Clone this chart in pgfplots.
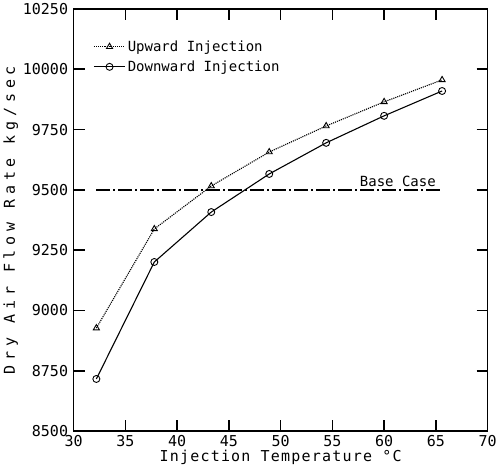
\documentclass[border=0pt]{standalone}
\usepackage{pgfplots}
\pgfplotsset{compat=1.18}
\usepackage{fontspec}
\newfontfamily\mono{DejaVu Sans Mono}
\newfontfamily\ylabfont[LetterSpace=32]{DejaVu Sans Mono}
\newfontfamily\xlabfont[LetterSpace=8]{DejaVu Sans Mono}

\begin{document}
\begin{tikzpicture}
\begin{axis}[
  width=414pt, height=422pt, scale only axis,
  xmin=30, xmax=70, ymin=8500, ymax=10250,
  xtick={30,35,...,70}, ytick={8500,8750,...,10250},
  scaled y ticks=false,
  major tick length=11pt,
  tick style={solid, black, line width=1.6pt},
  axis line style={solid, line width=1.3pt},
  ticklabel style={font=\mono\fontsize{15}{17}\selectfont},
  yticklabel style={xshift=-2pt},
  xticklabel style={yshift=-1pt},
  xticklabel={\pgfmathprintnumber[assume math mode=true,fixed,precision=0,1000 sep={}]{\tick}},
  yticklabel={\pgfmathprintnumber[assume math mode=true,fixed,precision=0,1000 sep={}]{\tick}},
  xlabel={\xlabfont\fontsize{15}{17}\selectfont Injection Temperature °C},
  ylabel={\ylabfont\fontsize{15}{17}\selectfont Dry Air Flow Rate kg/sec},
  xlabel style={yshift=4pt},
  ylabel style={yshift=-2pt},
  unbounded coords=jump,
  legend style={at={(0.04,0.935)}, anchor=north west, draw=none, fill=none,
    font=\mono\fontsize{14}{16}\selectfont, row sep=4pt},
  legend cell align=left,
  legend image code/.code={\draw[mark repeat=2,mark phase=2,#1]
    plot coordinates {(0cm,0cm) (0.55cm,0cm) (1.1cm,0cm)};},
]
\addplot[black, densely dotted, line width=1.1pt, mark=triangle, mark size=3.5pt,
  mark options={solid, line width=0.9pt}]
  coordinates {(32.2,8927) (37.8,9338) (43.3,9516) (48.9,9657) (54.4,9765) (60.0,9865) (65.6,9956)};
\addlegendentry{Upward Injection}
\addplot[black, solid, line width=1.1pt, mark=o, mark size=3.5pt,
  mark options={line width=0.9pt}]
  coordinates {(32.2,8716) (37.8,9201) (43.3,9408) (48.9,9566) (54.4,9695) (60.0,9807) (65.6,9910)};
\addlegendentry{Downward Injection}
\addplot[black, line width=1.3pt, dash pattern=on 14pt off 3pt on 2pt off 3pt, forget plot]
  coordinates {(32.2,9500) (65.6,9500)};
% inward tick marks on all four sides
\addplot[black, solid, line width=1.6pt, forget plot] coordinates {
  (35,8500) (35,8546) (35,nan) (40,8500) (40,8546) (40,nan)
  (45,8500) (45,8546) (45,nan) (50,8500) (50,8546) (50,nan)
  (55,8500) (55,8546) (55,nan) (60,8500) (60,8546) (60,nan)
  (65,8500) (65,8546) (65,nan)
  (35,10250) (35,10204) (35,nan) (40,10250) (40,10204) (40,nan)
  (45,10250) (45,10204) (45,nan) (50,10250) (50,10204) (50,nan)
  (55,10250) (55,10204) (55,nan) (60,10250) (60,10204) (60,nan)
  (65,10250) (65,10204) (65,nan)
  (30,8750) (31.06,8750) (30,nan) (30,9000) (31.06,9000) (30,nan)
  (30,9250) (31.06,9250) (30,nan) (30,9500) (31.06,9500) (30,nan)
  (30,9750) (31.06,9750) (30,nan) (30,10000) (31.06,10000) (30,nan)
  (68.94,8750) (70,8750) (70,nan) (68.94,9000) (70,9000) (70,nan)
  (68.94,9250) (70,9250) (70,nan) (68.94,9500) (70,9500) (70,nan)
  (68.94,9750) (70,9750) (70,nan) (68.94,10000) (70,10000) (70,nan)
};
\node[anchor=south east, font=\mono\fontsize{14}{16}\selectfont, inner sep=3pt] at (axis cs:65.3,9500) {Base Case};
\end{axis}
\end{tikzpicture}
\end{document}
